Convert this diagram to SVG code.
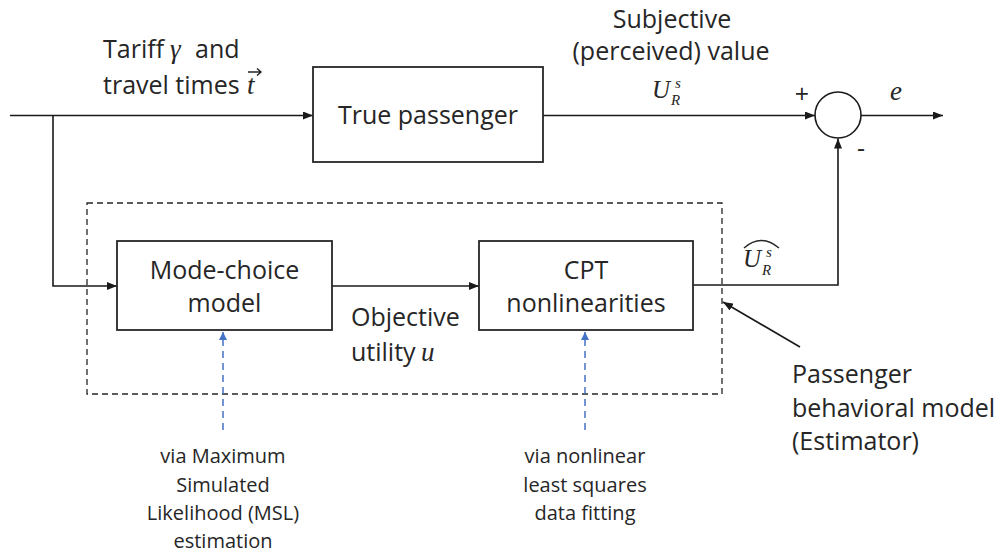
<svg xmlns="http://www.w3.org/2000/svg" width="1002" height="554" viewBox="0 0 1002 554">
<style>
.box{fill:#fff;stroke:#262626;stroke-width:1.8}
.ln{fill:none;stroke:#1a1a1a;stroke-width:1.6}
.dash{fill:none;stroke:#262626;stroke-width:1.3;stroke-dasharray:6,4}
.blue{fill:none;stroke:#4472C4;stroke-width:1.5;stroke-dasharray:7,5}
.t{font-family:"Open Sans","Liberation Sans",sans-serif;font-size:25px;fill:#262626}
.s{font-family:"Open Sans","Liberation Sans",sans-serif;font-size:20px;fill:#262626}
.m{font-family:"Liberation Serif","DejaVu Serif",serif;font-style:italic;fill:#262626}
</style>
<defs>
<marker id="ah" viewBox="0 0 10 8" refX="10" refY="4" markerWidth="10" markerHeight="8" markerUnits="userSpaceOnUse" orient="auto">
<path d="M0,0 L10,4 L0,8 z" fill="#1a1a1a"/>
</marker>
<marker id="ahb" viewBox="0 0 8 8" refX="8" refY="4" markerWidth="8" markerHeight="8" markerUnits="userSpaceOnUse" orient="auto">
<path d="M0,0 L8,4 L0,8 z" fill="#4472C4"/>
</marker>
</defs>
<rect width="1002" height="554" fill="#fff"/>

<g id="estimator-frame">
<rect class="dash" x="87" y="203" width="635" height="191"/>
</g>

<g id="connectors">
<line class="ln" x1="10" y1="115.5" x2="313" y2="115.5" marker-end="url(#ah)"/>
<polyline class="ln" points="53,115.5 53,286 117,286" marker-end="url(#ah)"/>
<line class="ln" x1="543" y1="115.5" x2="815" y2="115.5" marker-end="url(#ah)"/>
<line class="ln" x1="861" y1="115.5" x2="943" y2="115.5" marker-end="url(#ah)"/>
<line class="ln" x1="332" y1="286" x2="479" y2="286" marker-end="url(#ah)"/>
<polyline class="ln" points="693,285 838,285 838,138.5" marker-end="url(#ah)"/>
<line class="ln" x1="800" y1="347" x2="723" y2="302" stroke-width="1.5" marker-end="url(#ah)"/>
<line class="blue" x1="223" y1="430" x2="223" y2="332" marker-end="url(#ahb)"/>
<line class="blue" x1="585" y1="430" x2="585" y2="332" marker-end="url(#ahb)"/>
</g>

<g id="true-passenger">
<rect class="box" x="313" y="67" width="230" height="95"/>
<text class="t" x="428" y="124" text-anchor="middle">True passenger</text>
</g>

<g id="sum">
<circle cx="838" cy="115" r="23" fill="#fff" stroke="#1a1a1a" stroke-width="1.6"/>
</g>

<g id="mode-choice">
<rect class="box" x="117" y="241" width="215" height="89"/>
<text class="t" x="224.5" y="279" text-anchor="middle">Mode-choice</text>
<text class="t" x="224.5" y="312" text-anchor="middle">model</text>
</g>

<g id="cpt">
<rect class="box" x="479" y="241" width="214" height="89"/>
<text class="t" x="586" y="279" text-anchor="middle">CPT</text>
<text class="t" x="586" y="312" text-anchor="middle">nonlinearities</text>
</g>

<g id="labels">
<text class="t" x="103" y="58">Tariff</text>
<text class="m" x="170" y="58" font-size="27">γ</text>
<text class="t" x="195" y="58">and</text>
<text class="t" x="103" y="94">travel times</text>
<text class="m" x="247" y="94" font-size="27">t</text>
<path d="M248,72 L261,72 M257,68.5 L261,72 L257,75.5" fill="none" stroke="#262626" stroke-width="1.5"/>

<text class="t" x="672" y="28" text-anchor="middle">Subjective</text>
<text class="t" x="671" y="60" text-anchor="middle">(perceived) value</text>
<text class="m" x="652" y="98" font-size="25">U</text>
<text class="m" x="675" y="88" font-size="15">s</text>
<text class="m" x="671" y="105" font-size="15">R</text>

<text class="t" x="802" y="103" text-anchor="middle" font-size="20">+</text>
<text class="m" x="890" y="100" font-size="27">e</text>
<text class="t" x="861" y="157" text-anchor="middle" font-size="20">-</text>

<path d="M744,248 Q761,233 779,248" fill="none" stroke="#262626" stroke-width="1.4"/>
<text class="m" x="743" y="267" font-size="25">U</text>
<text class="m" x="766" y="257" font-size="15">s</text>
<text class="m" x="762" y="275" font-size="15">R</text>

<text class="t" x="351" y="326">Objective</text>
<text class="t" x="351" y="361">utility</text>
<text class="m" x="421" y="361" font-size="27">u</text>

<text class="t" x="792" y="383">Passenger</text>
<text class="t" x="792" y="417">behavioral model</text>
<text class="t" x="792" y="450">(Estimator)</text>

<text class="s" x="223" y="463" text-anchor="middle">via Maximum</text>
<text class="s" x="223" y="492" text-anchor="middle">Simulated</text>
<text class="s" x="223" y="520" text-anchor="middle">Likelihood (MSL)</text>
<text class="s" x="223" y="548" text-anchor="middle">estimation</text>

<text class="s" x="585" y="463" text-anchor="middle">via nonlinear</text>
<text class="s" x="585" y="492" text-anchor="middle">least squares</text>
<text class="s" x="585" y="520" text-anchor="middle">data fitting</text>
</g>
</svg>
